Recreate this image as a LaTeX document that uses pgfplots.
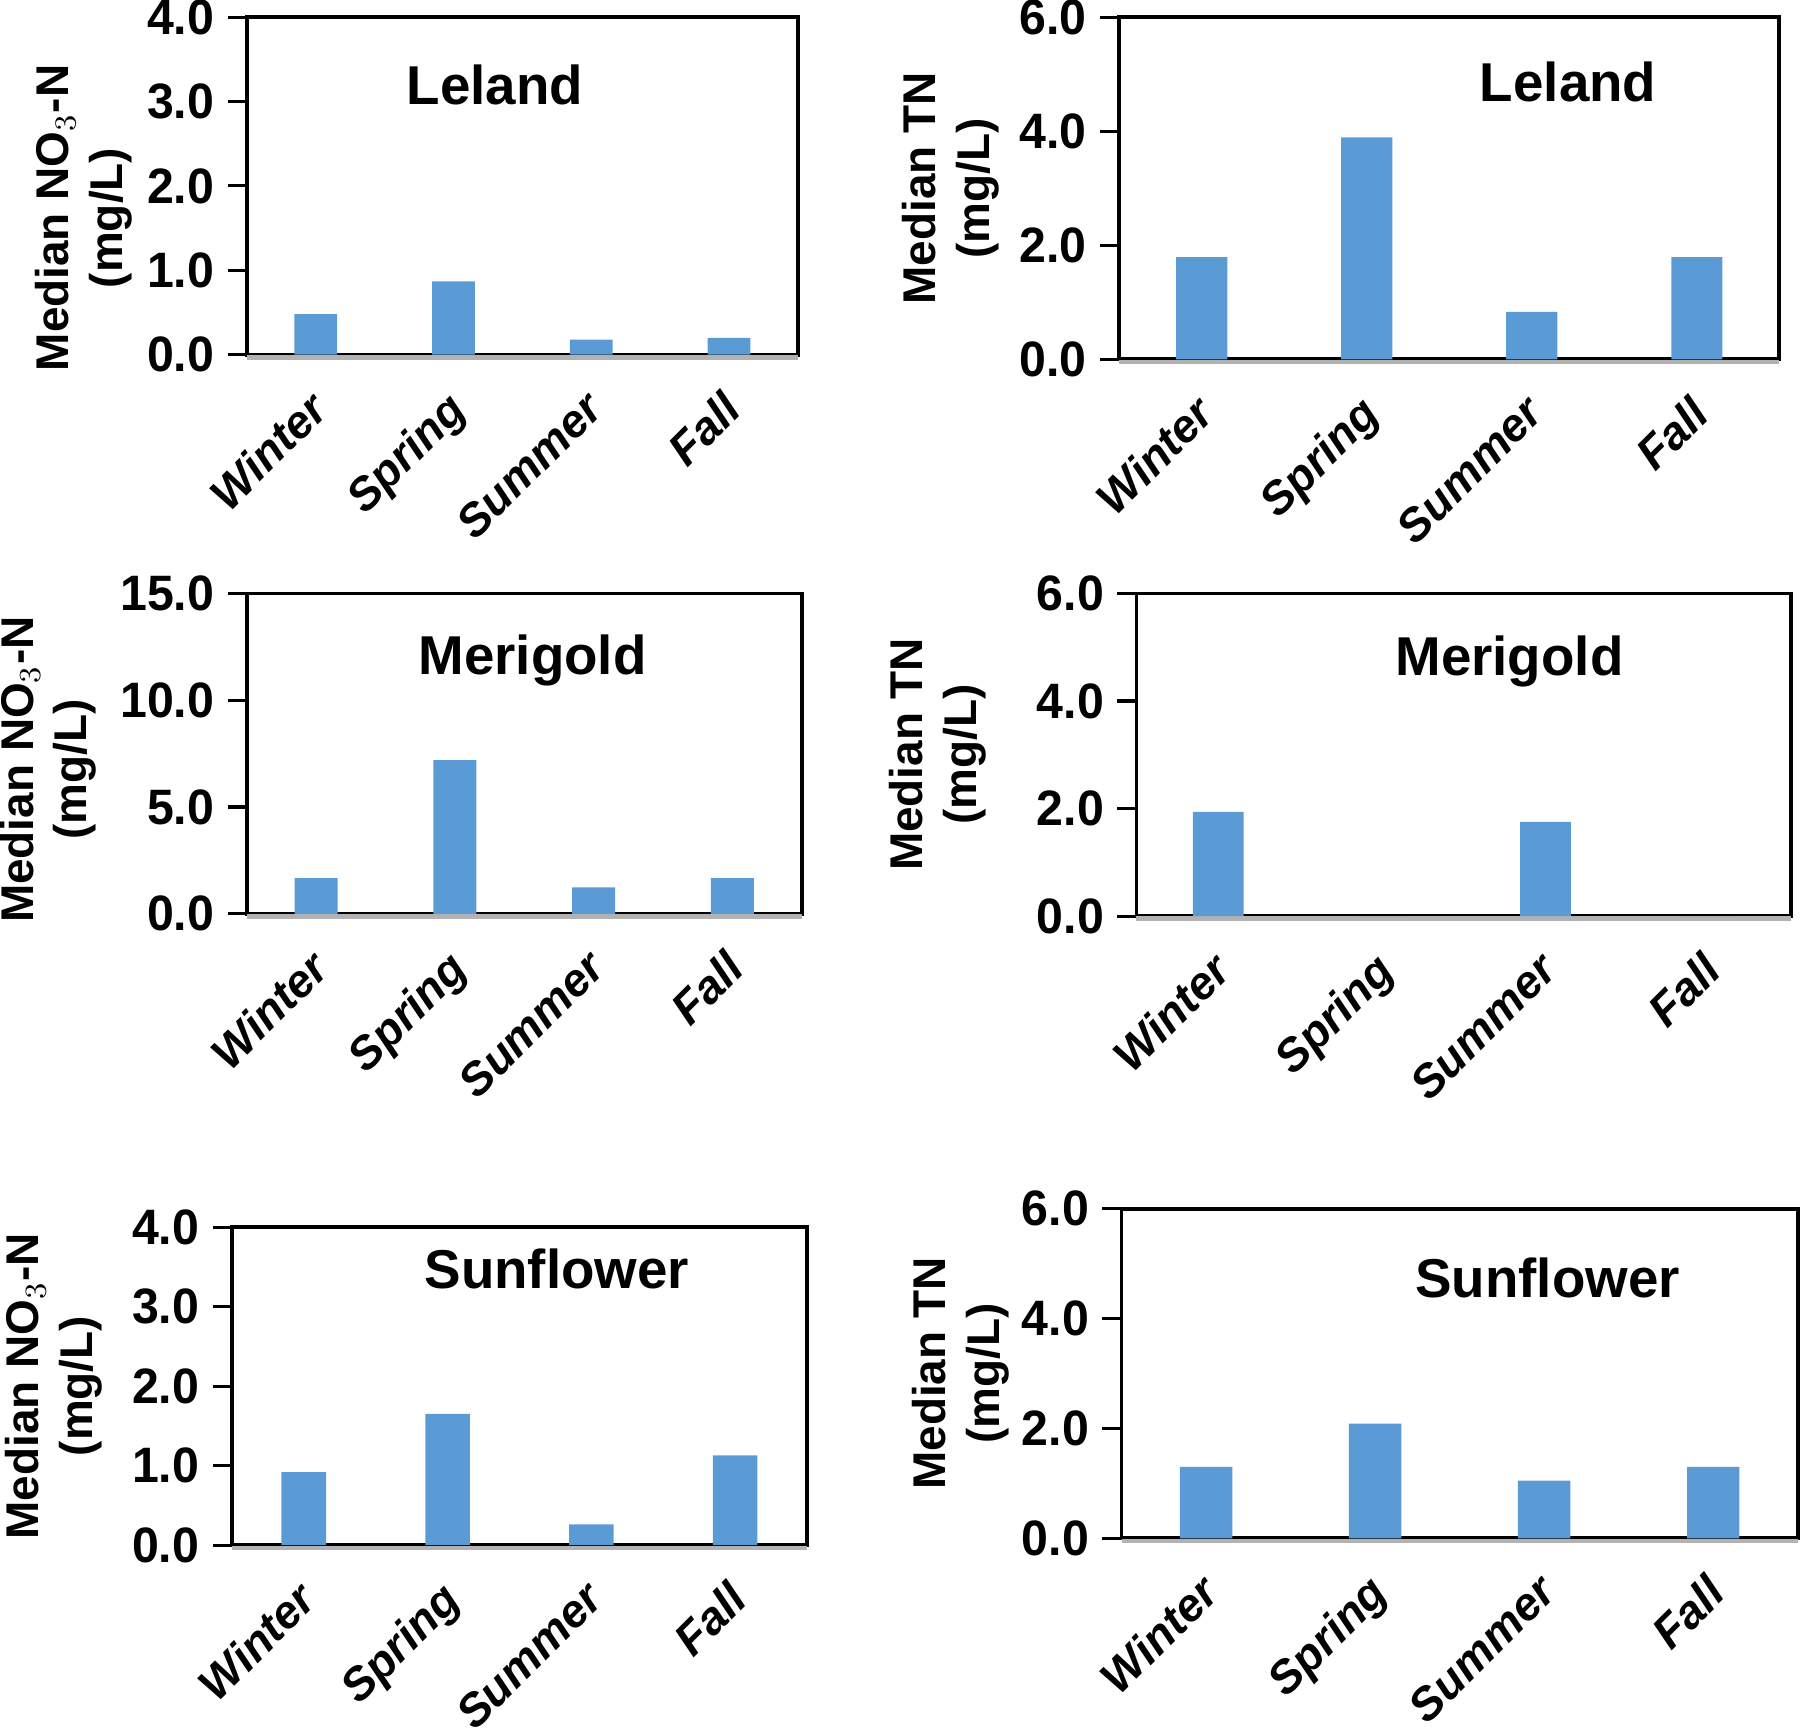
\documentclass[border=0pt]{standalone}
\usepackage{pgfplots}
\pgfplotsset{compat=1.18}
\usepackage{fontspec}
\setmainfont{Liberation Sans}
\newfontfamily\condfont[FakeStretch=0.97]{Liberation Sans}
\definecolor{barblue}{HTML}{5B9BD5}
\tikzset{ttl/.style={font=\fontsize{14.3}{16}\selectfont\bfseries}}
\pgfplotsset{
  panel/.style={
    scale only axis,
    anchor=south west,
    ybar, bar width=0.31,
    xmin=-0.5, xmax=3.5,
    xtick={0,1,2,3},
    xticklabels={Winter,Spring,Summer,Fall},
    xtick style={draw=none},
    xticklabel style={font=\fontsize{12}{14}\selectfont\bfseries\itshape, rotate=45, anchor=north east, yshift=2.4pt, xshift=-0.9pt},
    ytick pos=left, tick align=outside,
    major tick length=5pt,
    ytick style={line width=0.8pt, black},
    yticklabel style={font=\fontsize{13}{15}\selectfont\condfont\bfseries},
    /pgf/number format/.cd, fixed, fixed zerofill, precision=1, assume math mode=true, /pgfplots/.cd,
    axis line style={line width=1pt},
    ylabel style={font=\fontsize{12}{14}\selectfont\bfseries, align=center, anchor=center},
    ymin=0,
    clip=false,
    extra y ticks={0}, extra y tick labels={},
    extra y tick style={grid=major, major grid style={gray!60, line width=1.2pt, yshift=-0.7pt}, major tick length=0pt},
  },
}
\begin{document}
\begin{tikzpicture}
\useasboundingbox (0,0) rectangle (470.4pt,451.5pt);
% Panel 1
\begin{axis}[panel, at={(64.5pt,358.8pt)}, width=144pt, height=88.2pt,
  ymax=4, ytick={0,1,2,3,4},
  ylabel={Median NO$_3$-N\\(mg/L)},
  ylabel style={at={(axis description cs:0,0.405)}, yshift=42.6pt}]
\addplot[fill=barblue, draw=none] coordinates {(0,0.48) (1,0.87) (2,0.18) (3,0.20)};
\node[ttl] at (rel axis cs:0.45,0.8) {Leland};
\end{axis}
% Panel 2
\begin{axis}[panel, at={(292.5pt,357.6pt)}, width=172.5pt, height=89.4pt,
  ymax=6, ytick={0,2,4,6},
  ylabel={Median TN\\(mg/L)},
  ylabel style={at={(axis description cs:0,0.5)}, yshift=44.1pt}]
\addplot[fill=barblue, draw=none] coordinates {(0,1.79) (1,3.89) (2,0.83) (3,1.79)};
\node[ttl] at (rel axis cs:0.68,0.81) {Leland};
\end{axis}
% Panel 3
\begin{axis}[panel, at={(64.5pt,212.7pt)}, width=145pt, height=83.7pt,
  ymax=15, ytick={0,5,10,15},
  ylabel={Median NO$_3$-N\\(mg/L)},
  ylabel style={at={(axis description cs:0,0.45)}, yshift=51.9pt}]
\addplot[fill=barblue, draw=none] coordinates {(0,1.67) (1,7.2) (2,1.24) (3,1.67)};
\node[ttl] at (rel axis cs:0.515,0.79) {Merigold};
\end{axis}
% Panel 4
\begin{axis}[panel, at={(297pt,212.1pt)}, width=171pt, height=84.3pt,
  ymax=6, ytick={0,2,4,6},
  ylabel={Median TN\\(mg/L)},
  ylabel style={at={(axis description cs:0,0.5)}, yshift=51.9pt}]
\addplot[fill=barblue, draw=none] coordinates {(0,1.94) (1,0) (2,1.75) (3,0)};
\node[ttl] at (rel axis cs:0.57,0.79) {Merigold};
\end{axis}
% Panel 5
\begin{axis}[panel, at={(60.6pt,47.7pt)}, width=150.3pt, height=83.1pt,
  ymax=4, ytick={0,1,2,3,4},
  ylabel={Median NO$_3$-N\\(mg/L)},
  ylabel style={at={(axis description cs:0,0.5)}, yshift=46.5pt}]
\addplot[fill=barblue, draw=none] coordinates {(0,0.92) (1,1.65) (2,0.26) (3,1.13)};
\node[ttl] at (rel axis cs:0.565,0.87) {Sunflower};
\end{axis}
% Panel 6
\begin{axis}[panel, at={(293.1pt,49.5pt)}, width=176.7pt, height=86.1pt,
  ymax=6, ytick={0,2,4,6},
  ylabel={Median TN\\(mg/L)},
  ylabel style={at={(axis description cs:0,0.5)}, yshift=42pt}]
\addplot[fill=barblue, draw=none] coordinates {(0,1.30) (1,2.09) (2,1.05) (3,1.30)};
\node[ttl] at (rel axis cs:0.63,0.79) {Sunflower};
\end{axis}
\end{tikzpicture}
\end{document}
